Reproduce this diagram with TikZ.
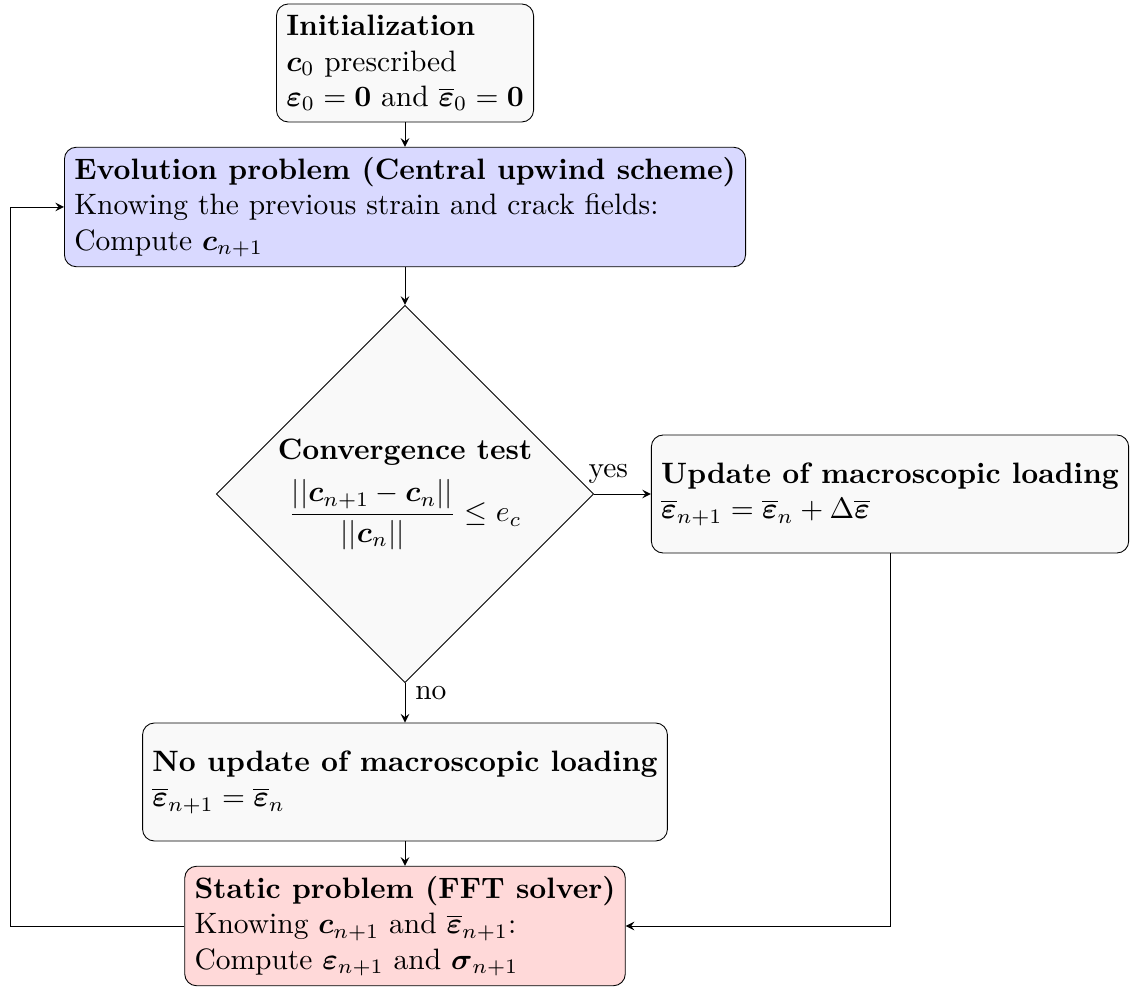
\documentclass[tikz,border=0pt]{standalone}
\usepackage{amsmath,amssymb}
\usepackage{tikz}
\usetikzlibrary{shapes.geometric}

\begin{document}
\begin{tikzpicture}[x=0.339pt,y=-0.339pt,>=stealth,line width=0.3pt,
  box/.style={draw,rounded corners,align=left,minimum height=40pt,fill=gray!5},
  test/.style={draw,diamond,aspect=1,align=center,fill=gray!5,inner sep=1pt}]
\useasboundingbox (0,0) rectangle (1135,989);
% boxes
\node[box] (init) at (405,63) {\textbf{Initialization}\\
  $\boldsymbol{c}_0$ prescribed\\
  $\boldsymbol{\varepsilon}_0=\mathbf{0}$ and $\overline{\boldsymbol{\varepsilon}}_0=\mathbf{0}$};
\node[box,fill=blue!15] (evol) at (405,207) {\textbf{Evolution problem (Central upwind scheme)}\\
  Knowing the previous strain and crack fields:\\
  Compute $\boldsymbol{c}_{n+1}$};
\node[test] (conv) at (405,494) {\textbf{Convergence test}\\[4pt]
  $\displaystyle\frac{||\boldsymbol{c}_{n+1}-\boldsymbol{c}_n||}{||\boldsymbol{c}_n||}\leq e_c$};
\node[box] (upd) at (890,494) {\textbf{Update of macroscopic loading}\\
  $\overline{\boldsymbol{\varepsilon}}_{n+1}=\overline{\boldsymbol{\varepsilon}}_n+\Delta\overline{\boldsymbol{\varepsilon}}$};
\node[box] (noupd) at (405,782) {\textbf{No update of macroscopic loading}\\
  $\overline{\boldsymbol{\varepsilon}}_{n+1}=\overline{\boldsymbol{\varepsilon}}_n$};
\node[box,fill=red!15] (stat) at (405,926) {\textbf{Static problem (FFT solver)}\\
  Knowing $\boldsymbol{c}_{n+1}$ and $\overline{\boldsymbol{\varepsilon}}_{n+1}$:\\
  Compute $\boldsymbol{\varepsilon}_{n+1}$ and $\boldsymbol{\sigma}_{n+1}$};
\coordinate (back) at (10,926);
% arrows
\draw[->] (init) -- (evol);
\draw[->] (evol) -- (conv);
\draw[->] (conv.east) -- node[above,near start] {yes} (upd.west);
\draw[->] (conv.south) -- node[right,near start] {no} (noupd.north);
\draw[->] (noupd) -- (stat);
\draw[->] (stat.west) -- (back) |- (evol.west);
\draw[->] (upd.south) |- (stat.east);
\end{tikzpicture}
\end{document}
